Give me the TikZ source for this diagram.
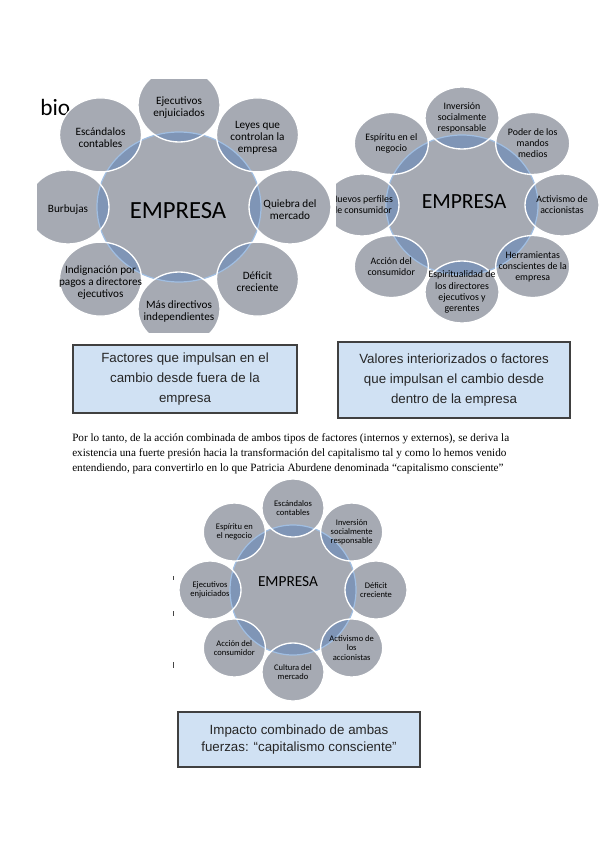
\documentclass[tikz,border=0pt]{standalone}
\usepackage{fontspec}
\setmainfont{Carlito}
\newfontfamily\arialfont{Liberation Sans}
\newfontfamily\timesfont{Liberation Serif}
\usetikzlibrary{calc}
\definecolor{empresaGray}{RGB}{166,170,179}
\definecolor{lensBlue}{RGB}{127,149,182}
\definecolor{hubRimBlue}{RGB}{160,190,226}
\definecolor{boxBlue}{RGB}{208,225,243}
\definecolor{boxEdge}{RGB}{64,64,64}
\definecolor{markGray}{RGB}{70,70,70}

\tikzset{
  hubRim/.style={draw=hubRimBlue, line width=0.9pt},
  petalRim/.style={draw=white, line width=1pt},
  petalA/.style={align=center, inner sep=0pt, font=\fontsize{8.4}{9}\selectfont},
  petalB/.style={align=center, inner sep=0pt, font=\fontsize{7.4}{8.3}\selectfont},
  petalC/.style={align=center, inner sep=0pt, font=\fontsize{6.4}{6.9}\selectfont},
  sumBox/.style={draw=boxEdge, fill=boxBlue, line width=0.8pt, align=center,
    text=black!85, font=\arialfont\fontsize{10}{15}\selectfont},
  paraLine/.style={anchor=base west, inner sep=0pt, font=\timesfont\fontsize{8.4}{9}\selectfont}
}

\begin{document}
\begin{tikzpicture}[x=0.75pt, y=-0.75pt]
  \fill[white] (0,0) rectangle (600,848);
  \node[anchor=base west, inner sep=0pt, font=\fontsize{17.5}{20}\selectfont] (bio) at (40,116) {bio};

  % 1. Factores desde fuera
  \begin{scope}
  \clip (37,80) rectangle (335,332);
  \coordinate (hubA) at (179,207);
  \fill[empresaGray] (hubA) ellipse [x radius=82, y radius=75];
  \foreach \a in {-90,-45,...,225}
    \fill[empresaGray] ($(hubA)+(\a:111 and 102)$) ellipse [x radius=41, y radius=37];
  \begin{scope}
    \clip (hubA) ellipse [x radius=82, y radius=75];
    \foreach \a in {-90,-45,...,225}
      \fill[lensBlue] ($(hubA)+(\a:111 and 102)$) ellipse [x radius=41, y radius=37];
  \end{scope}
  \draw[hubRim] (hubA) ellipse [x radius=82, y radius=75];
  \foreach \a in {-90,-45,...,225}
    \draw[petalRim] ($(hubA)+(\a:111 and 102)$) ellipse [x radius=41, y radius=37];
  \node[font=\fontsize{18.5}{20}\selectfont] (hubA-txt) at (178,211) {EMPRESA};
  \foreach \a/\nm/\lbl in {-90/ejec/{Ejecutivos\\enjuiciados},
      -45/leyes/{Leyes que\\controlan la\\empresa},
      0/quiebra/{Quiebra del\\mercado},
      45/deficit/{Déficit\\creciente},
      90/mas/{Más directivos\\independientes},
      135/indig/{Indignación por\\pagos a directores\\ejecutivos},
      180/burb/{Burbujas},
      225/escand/{Escándalos\\contables}}
    \node[petalA] (ext-\nm) at ($(hubA)+(\a:111 and 102)+(0,3)$) {\lbl};
  \end{scope}

  % 2. Factores desde dentro
  \begin{scope}
  \clip (336,80) rectangle (600,332);
  \coordinate (hubB) at (462,205);
  \fill[empresaGray] (hubB) ellipse [x radius=76, y radius=70];
  \foreach \a in {-90,-45,...,225}
    \fill[empresaGray] ($(hubB)+(\a:100 and 87)$) ellipse [x radius=37, y radius=31];
  \begin{scope}
    \clip (hubB) ellipse [x radius=76, y radius=70];
    \foreach \a in {-90,-45,...,225}
      \fill[lensBlue] ($(hubB)+(\a:100 and 87)$) ellipse [x radius=37, y radius=31];
  \end{scope}
  \draw[hubRim] (hubB) ellipse [x radius=76, y radius=70];
  \foreach \a in {-90,-45,...,225}
    \draw[petalRim] ($(hubB)+(\a:100 and 87)$) ellipse [x radius=37, y radius=31];
  \node[font=\fontsize{16.2}{18}\selectfont] (hubB-txt) at (464,202) {EMPRESA};
  \foreach \a/\nm/\lbl in {-90/inv/{Inversión\\socialmente\\responsable},
      -45/poder/{Poder de los\\mandos\\medios},
      0/activ/{Activismo de\\accionistas},
      45/herr/{Herramientas\\conscientes de la\\empresa},
      90/espir/{Espiritualidad de\\los directores\\ejecutivos y\\gerentes},
      135/accion/{Acción del\\consumidor},
      180/nuevos/{Nuevos perfiles\\de consumidor},
      225/negocio/{Espíritu en el\\negocio}}
    \node[petalB] (int-\nm) at ($(hubB)+(\a:100 and 87)$) {\lbl};
  \end{scope}

  % 3. Cajas de resumen y parrafo
  \node[sumBox, minimum width=168pt, minimum height=51pt] (extBox) at (185,379)
    {Factores que impulsan en el\\cambio desde fuera de la\\empresa};
  \node[sumBox, minimum width=174pt, minimum height=57pt] (intBox) at (454,380)
    {Valores interiorizados o factores\\que impulsan el cambio desde\\dentro de la empresa};
  \node[paraLine] (para1) at (72,441) {Por lo tanto, de la acción combinada de ambos tipos de factores (internos y externos), se deriva la};
  \node[paraLine] (para2) at (72,456) {existencia una fuerte presión hacia la transformación del capitalismo tal y como lo hemos venido};
  \node[paraLine] (para3) at (72,471) {entendiendo, para convertirlo en lo que Patricia Aburdene denominada “capitalismo consciente”};

  % 4. Capitalismo consciente
  \coordinate (hubC) at (293,590);
  \fill[empresaGray] (hubC) ellipse [x radius=63, y radius=65];
  \foreach \a in {-90,-45,...,225}
    \fill[empresaGray] ($(hubC)+(\a:83 and 82)$) ellipse [x radius=31, y radius=29];
  \begin{scope}
    \clip (hubC) ellipse [x radius=63, y radius=65];
    \foreach \a in {-90,-45,...,225}
      \fill[lensBlue] ($(hubC)+(\a:83 and 82)$) ellipse [x radius=31, y radius=29];
  \end{scope}
  \draw[hubRim] (hubC) ellipse [x radius=63, y radius=65];
  \foreach \a in {-90,-45,...,225}
    \draw[petalRim] ($(hubC)+(\a:83 and 82)$) ellipse [x radius=31, y radius=29];
  \node[font=\fontsize{11.5}{13}\selectfont] (hubC-txt) at (288,582) {EMPRESA};
  \foreach \a/\nm/\lbl in {-90/escand/{Escándalos\\contables},
      -45/inv/{Inversión\\socialmente\\responsable},
      0/deficit/{Déficit\\creciente},
      45/activ/{Activismo de\\los\\accionistas},
      90/cultura/{Cultura del\\mercado},
      135/accion/{Acción del\\consumidor},
      180/ejec/{Ejecutivos\\enjuiciados},
      225/negocio/{Espíritu en\\el negocio}}
    \node[petalC] (mix-\nm) at ($(hubC)+(\a:83 and 82)$) {\lbl};
  \draw[markGray, line width=0.5pt] (173,576) -- (173,580);
  \draw[markGray, line width=0.5pt] (173,611) -- (173,616);
  \draw[markGray, line width=0.9pt] (173.5,662) -- (173.5,668);
  \node[sumBox, font=\arialfont\fontsize{10}{12.5}\selectfont, minimum width=181.5pt, minimum height=41.25pt] (mixBox) at (299,739.5)
    {Impacto combinado de ambas\\fuerzas: “capitalismo consciente”};
\end{tikzpicture}
\end{document}
